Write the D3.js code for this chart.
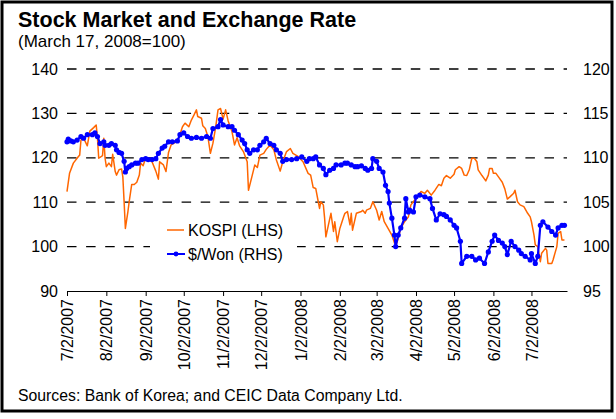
<!DOCTYPE html>
<html>
<head>
<meta charset="utf-8">
<script src="https://cdn.jsdelivr.net/npm/d3@7"></script>
<style>
    body { margin: 0; background: #fff; }
    text { font-family: "Liberation Sans", Arial, sans-serif; fill: #000; }
</style>
</head>
<body>
<script>
//Chart data (March 17, 2008 = 100)
var leftTicks = [90, 100, 110, 120, 130, 140];
var rightTicks = [95, 100, 105, 110, 115, 120];
var monthTicks = ["2007-07-02", "2007-08-02", "2007-09-02", "2007-10-02",
    "2007-11-02", "2007-12-02", "2008-01-02", "2008-02-02", "2008-03-02",
    "2008-04-02", "2008-05-02", "2008-06-02", "2008-07-02"];
var seriesNames = ["KOSPI (LHS)", "$/Won (RHS)"];

//KOSPI, left axis
var kospi = [
    ["2007-07-02", 112.4], ["2007-07-04", 116.5], ["2007-07-07", 118.8],
    ["2007-07-11", 120.3], ["2007-07-12", 120.6], ["2007-07-13", 124.0],
    ["2007-07-15", 124.5], ["2007-07-18", 122.7], ["2007-07-20", 126.0],
    ["2007-07-23", 126.8], ["2007-07-25", 127.4], ["2007-07-26", 124.4],
    ["2007-07-27", 119.9], ["2007-07-30", 120.5], ["2007-07-31", 124.4],
    ["2007-08-01", 119.9], ["2007-08-02", 118.0], ["2007-08-04", 118.8],
    ["2007-08-06", 118.0], ["2007-08-07", 120.8], ["2007-08-09", 116.9],
    ["2007-08-10", 116.1], ["2007-08-12", 117.3], ["2007-08-14", 117.5],
    ["2007-08-15", 115.7], ["2007-08-16", 110.1], ["2007-08-17", 104.1],
    ["2007-08-19", 107.9], ["2007-08-20", 110.1], ["2007-08-22", 114.0],
    ["2007-08-24", 114.0], ["2007-08-26", 114.5], ["2007-08-28", 116.1],
    ["2007-08-29", 118.8], ["2007-08-31", 118.2], ["2007-09-02", 120.0],
    ["2007-09-04", 119.7], ["2007-09-06", 119.5], ["2007-09-07", 119.1],
    ["2007-09-10", 117.0], ["2007-09-12", 115.2], ["2007-09-13", 119.1],
    ["2007-09-16", 118.4], ["2007-09-18", 116.9], ["2007-09-20", 121.2],
    ["2007-09-22", 122.9], ["2007-09-25", 123.4], ["2007-09-28", 124.4],
    ["2007-10-01", 127.0], ["2007-10-03", 127.8], ["2007-10-06", 127.0],
    ["2007-10-08", 128.5], ["2007-10-10", 129.6], ["2007-10-12", 130.8],
    ["2007-10-13", 129.3], ["2007-10-16", 128.9], ["2007-10-17", 127.2],
    ["2007-10-19", 126.6], ["2007-10-21", 124.8], ["2007-10-23", 121.0],
    ["2007-10-25", 123.3], ["2007-10-27", 126.6], ["2007-10-29", 130.8],
    ["2007-10-31", 131.1], ["2007-11-02", 128.7], ["2007-11-04", 130.8],
    ["2007-11-06", 128.3], ["2007-11-09", 125.9], ["2007-11-11", 122.9],
    ["2007-11-13", 124.5], ["2007-11-15", 122.7], ["2007-11-18", 121.4],
    ["2007-11-21", 119.1], ["2007-11-22", 112.7], ["2007-11-25", 116.1],
    ["2007-11-27", 118.4], ["2007-11-29", 117.8], ["2007-12-01", 120.6],
    ["2007-12-04", 121.0], ["2007-12-06", 121.9], ["2007-12-09", 122.9],
    ["2007-12-12", 121.8], ["2007-12-14", 119.5], ["2007-12-17", 117.0],
    ["2007-12-19", 119.1], ["2007-12-22", 121.4], ["2007-12-25", 122.1],
    ["2007-12-27", 121.0], ["2007-12-31", 120.3], ["2008-01-04", 119.1],
    ["2008-01-08", 116.5], ["2008-01-10", 116.1], ["2008-01-12", 113.3],
    ["2008-01-14", 113.1], ["2008-01-16", 110.1], ["2008-01-17", 108.6],
    ["2008-01-18", 110.1], ["2008-01-20", 109.4], ["2008-01-21", 106.4],
    ["2008-01-22", 102.2], ["2008-01-24", 104.9], ["2008-01-26", 107.5],
    ["2008-01-28", 103.4], ["2008-01-29", 105.6], ["2008-01-31", 101.1],
    ["2008-02-02", 104.1], ["2008-02-05", 106.7], ["2008-02-06", 107.5],
    ["2008-02-08", 107.9], ["2008-02-10", 104.9], ["2008-02-11", 107.5],
    ["2008-02-12", 103.7], ["2008-02-15", 107.5], ["2008-02-19", 107.9],
    ["2008-02-20", 108.2], ["2008-02-22", 107.5], ["2008-02-23", 108.2],
    ["2008-02-26", 108.6], ["2008-02-28", 110.1], ["2008-03-02", 108.2],
    ["2008-03-04", 106.0], ["2008-03-06", 107.9], ["2008-03-08", 105.6],
    ["2008-03-11", 104.1], ["2008-03-14", 102.6], ["2008-03-17", 100.0],
    ["2008-03-19", 101.9], ["2008-03-21", 104.1], ["2008-03-24", 105.6],
    ["2008-03-27", 106.7], ["2008-03-29", 109.4], ["2008-04-01", 110.5],
    ["2008-04-04", 111.6], ["2008-04-06", 112.4], ["2008-04-09", 112.0],
    ["2008-04-11", 112.7], ["2008-04-14", 111.6], ["2008-04-17", 112.7],
    ["2008-04-20", 114.0], ["2008-04-22", 113.7], ["2008-04-24", 115.4],
    ["2008-04-26", 116.0], ["2008-04-29", 115.4], ["2008-05-02", 116.3],
    ["2008-05-03", 117.3], ["2008-05-06", 118.0], ["2008-05-08", 117.6],
    ["2008-05-10", 116.1], ["2008-05-12", 116.0], ["2008-05-14", 117.3],
    ["2008-05-16", 119.9], ["2008-05-18", 119.9], ["2008-05-20", 119.1],
    ["2008-05-21", 117.3], ["2008-05-24", 116.0], ["2008-05-27", 114.8],
    ["2008-05-29", 116.1], ["2008-05-30", 117.6], ["2008-06-01", 117.6],
    ["2008-06-02", 116.5], ["2008-06-04", 116.5], ["2008-06-06", 115.7],
    ["2008-06-09", 114.5], ["2008-06-11", 113.0], ["2008-06-13", 110.7],
    ["2008-06-15", 111.2], ["2008-06-18", 112.0], ["2008-06-19", 112.7],
    ["2008-06-21", 110.1], ["2008-06-23", 109.4], ["2008-06-26", 109.0],
    ["2008-06-29", 107.5], ["2008-07-01", 106.7], ["2008-07-02", 105.6],
    ["2008-07-04", 102.6], ["2008-07-05", 100.4], ["2008-07-07", 100.0],
    ["2008-07-09", 96.6], ["2008-07-10", 98.5], ["2008-07-13", 99.6],
    ["2008-07-14", 99.2], ["2008-07-15", 96.2], ["2008-07-18", 96.2],
    ["2008-07-19", 97.0], ["2008-07-22", 100.0], ["2008-07-23", 103.0],
    ["2008-07-25", 103.4], ["2008-07-26", 101.5], ["2008-07-28", 101.5]
];

//Dollar / won exchange rate, right axis
var won = [
    ["2007-07-02", 111.8], ["2007-07-03", 112.1], ["2007-07-05", 111.9],
    ["2007-07-07", 111.8], ["2007-07-10", 112.0], ["2007-07-13", 112.4],
    ["2007-07-15", 112.2], ["2007-07-18", 112.6], ["2007-07-22", 112.6],
    ["2007-07-24", 112.8], ["2007-07-26", 112.4], ["2007-07-28", 111.6],
    ["2007-07-31", 111.8], ["2007-08-01", 111.4], ["2007-08-04", 111.4],
    ["2007-08-06", 111.6], ["2007-08-09", 111.4], ["2007-08-10", 110.9],
    ["2007-08-12", 110.6], ["2007-08-14", 110.5], ["2007-08-16", 109.6],
    ["2007-08-17", 108.4], ["2007-08-18", 108.8], ["2007-08-20", 109.0],
    ["2007-08-22", 109.2], ["2007-08-25", 109.4], ["2007-08-27", 109.4],
    ["2007-08-30", 109.8], ["2007-09-02", 109.9], ["2007-09-04", 109.8],
    ["2007-09-07", 109.8], ["2007-09-10", 109.9], ["2007-09-12", 110.5],
    ["2007-09-15", 111.1], ["2007-09-17", 111.3], ["2007-09-20", 111.8],
    ["2007-09-23", 111.8], ["2007-09-27", 111.9], ["2007-09-29", 112.6],
    ["2007-10-02", 112.8], ["2007-10-05", 112.4], ["2007-10-08", 112.2],
    ["2007-10-12", 112.3], ["2007-10-16", 112.2], ["2007-10-20", 112.4],
    ["2007-10-23", 112.2], ["2007-10-25", 113.3], ["2007-10-29", 113.5],
    ["2007-10-31", 114.3], ["2007-11-02", 113.7], ["2007-11-06", 113.5],
    ["2007-11-09", 113.5], ["2007-11-11", 113.1], ["2007-11-14", 112.6],
    ["2007-11-17", 112.0], ["2007-11-19", 111.6], ["2007-11-21", 110.9],
    ["2007-11-23", 110.5], ["2007-11-26", 110.9], ["2007-11-29", 110.9],
    ["2007-12-01", 111.4], ["2007-12-04", 111.8], ["2007-12-06", 112.2],
    ["2007-12-09", 111.6], ["2007-12-12", 111.4], ["2007-12-14", 110.9],
    ["2007-12-17", 110.5], ["2007-12-19", 109.6], ["2007-12-22", 109.8],
    ["2007-12-26", 109.8], ["2007-12-30", 109.9], ["2008-01-03", 110.1],
    ["2008-01-07", 109.6], ["2008-01-09", 109.9], ["2008-01-12", 109.9],
    ["2008-01-14", 110.1], ["2008-01-17", 109.2], ["2008-01-20", 108.8],
    ["2008-01-22", 108.1], ["2008-01-25", 108.6], ["2008-01-28", 108.8],
    ["2008-01-30", 109.2], ["2008-02-03", 109.2], ["2008-02-06", 109.4],
    ["2008-02-08", 109.4], ["2008-02-11", 109.2], ["2008-02-14", 109.0],
    ["2008-02-16", 109.0], ["2008-02-19", 109.1], ["2008-02-22", 108.8],
    ["2008-02-24", 108.6], ["2008-02-27", 108.8], ["2008-02-28", 109.9],
    ["2008-03-02", 109.6], ["2008-03-04", 108.8], ["2008-03-07", 108.4],
    ["2008-03-09", 106.9], ["2008-03-11", 106.2], ["2008-03-12", 104.9],
    ["2008-03-14", 103.2], ["2008-03-16", 101.3], ["2008-03-17", 100.0],
    ["2008-03-19", 101.3], ["2008-03-21", 102.1], ["2008-03-24", 103.2],
    ["2008-03-25", 105.4], ["2008-03-27", 103.9], ["2008-03-28", 104.1],
    ["2008-03-31", 103.9], ["2008-04-02", 105.6], ["2008-04-05", 105.8],
    ["2008-04-09", 105.6], ["2008-04-13", 105.4], ["2008-04-15", 104.3],
    ["2008-04-18", 103.0], ["2008-04-21", 103.7], ["2008-04-24", 103.6],
    ["2008-04-26", 103.4], ["2008-04-29", 103.0], ["2008-05-02", 102.4],
    ["2008-05-04", 102.1], ["2008-05-07", 100.6], ["2008-05-08", 98.1],
    ["2008-05-12", 98.9], ["2008-05-16", 98.9], ["2008-05-19", 98.5],
    ["2008-05-22", 98.7], ["2008-05-26", 98.1], ["2008-05-29", 99.4],
    ["2008-06-01", 100.6], ["2008-06-03", 101.3], ["2008-06-06", 100.7],
    ["2008-06-09", 100.4], ["2008-06-11", 100.0], ["2008-06-13", 99.1],
    ["2008-06-16", 100.6], ["2008-06-19", 100.0], ["2008-06-22", 99.6],
    ["2008-06-24", 99.2], ["2008-06-27", 98.9], ["2008-07-01", 98.5],
    ["2008-07-02", 99.2], ["2008-07-05", 98.1], ["2008-07-07", 98.9],
    ["2008-07-09", 102.4], ["2008-07-11", 102.8], ["2008-07-15", 102.2],
    ["2008-07-18", 101.7], ["2008-07-21", 101.3], ["2008-07-23", 102.1],
    ["2008-07-26", 102.4], ["2008-07-28", 102.4]
];

var orange = "#ff6600",
    blue = "#0000ff";

//Plot area inside the 616x419 picture
var margin = {top: 69, right: 49, bottom: 128, left: 67},
    width = 616 - margin.left - margin.right,
    height = 419 - margin.top - margin.bottom;

var parseDate = d3.timeParse("%Y-%m-%d"),
    formatTick = d3.timeFormat("%-m/%-d/%Y");

var svg = d3.select("body").append("svg")
    .attr("width", 616)
    .attr("height", 419);

//Outer frame
svg.append("rect")
    .attr("x", 2)
    .attr("y", 2)
    .attr("width", 610)
    .attr("height", 409)
    .attr("fill", "#fff")
    .attr("stroke", "#000")
    .attr("stroke-width", 3);

//Titles
svg.append("text")
    .attr("x", 18)
    .attr("y", 27)
    .style("font-size", "21.5px")
    .style("font-weight", "bold")
    .text("Stock Market and Exchange Rate");

svg.append("text")
    .attr("x", 18)
    .attr("y", 47)
    .style("font-size", "17px")
    .text("(March 17, 2008=100)");

svg.append("text")
    .attr("x", 18)
    .attr("y", 401)
    .style("font-size", "15.8px")
    .text("Sources: Bank of Korea; and CEIC Data Company Ltd.");

var g = svg.append("g")
    .attr("transform", "translate(" + margin.left + "," + margin.top + ")");

//Scales
var x = d3.scaleTime()
    .domain([parseDate("2007-07-02"), parseDate("2008-07-30")])
    .range([0, width]);

var yLeft = d3.scaleLinear().domain([90, 140]).range([height, 0]);
var yRight = d3.scaleLinear().domain([95, 120]).range([height, 0]);

//Dashed gridlines (every major tick except the bottom axis)
g.append("g")
    .selectAll("line")
    .data(leftTicks.slice(1))
    .enter().append("line")
    .attr("x1", 0)
    .attr("x2", width)
    .attr("y1", function(d) { return yLeft(d); })
    .attr("y2", function(d) { return yLeft(d); })
    .attr("stroke", "#000")
    .attr("stroke-width", 1.3)
    .attr("stroke-dasharray", "9.5,9.6");

//Left and right value labels
var leftAxis = g.append("g")
    .call(d3.axisLeft(yLeft).tickValues(leftTicks).tickSize(0).tickPadding(9));
leftAxis.select(".domain").remove();

var rightAxis = g.append("g")
    .attr("transform", "translate(" + width + ",0)")
    .call(d3.axisRight(yRight).tickValues(rightTicks).tickSize(0)
        .tickPadding(16));
rightAxis.select(".domain").remove();

//Bottom date axis
var xAxis = g.append("g")
    .attr("transform", "translate(0," + height + ")")
    .call(d3.axisBottom(x)
        .tickValues(monthTicks.map(parseDate))
        .tickSize(5)
        .tickSizeOuter(0)
        .tickFormat(formatTick));

xAxis.select(".domain").attr("stroke-width", 1);
xAxis.selectAll(".tick text")
    .attr("transform", "rotate(-90)")
    .attr("x", -8)
    .attr("y", 0)
    .attr("dy", "0.35em")
    .style("text-anchor", "end");

//Same font for all axis labels
g.selectAll(".tick text")
    .style("font-family", "'Liberation Sans', Arial, sans-serif")
    .style("font-size", "16px");

//Legend box sits over the gridline
var legend = g.append("g")
    .attr("transform", "translate(100,161)");

legend.append("rect")
    .attr("x", -17)
    .attr("y", -12)
    .attr("width", 147)
    .attr("height", 48)
    .attr("fill", "#fff");

legend.append("line")
    .attr("x1", 0).attr("x2", 17)
    .attr("y1", 0).attr("y2", 0)
    .attr("stroke", orange)
    .attr("stroke-width", 1.5);

legend.append("line")
    .attr("x1", 0).attr("x2", 18)
    .attr("y1", 24).attr("y2", 24)
    .attr("stroke", blue)
    .attr("stroke-width", 2);

legend.append("circle")
    .attr("cx", 9)
    .attr("cy", 24)
    .attr("r", 2.4)
    .attr("fill", blue);

legend.selectAll("text")
    .data(seriesNames)
    .enter().append("text")
    .attr("x", 21)
    .attr("y", function(d, i) { return i * 24; })
    .attr("dy", "0.35em")
    .style("font-size", "16px")
    .text(function(d) { return d; });

//KOSPI line
var kospiLine = d3.line()
    .x(function(d) { return x(parseDate(d[0])); })
    .y(function(d) { return yLeft(d[1]); });

g.append("path")
    .datum(kospi)
    .attr("fill", "none")
    .attr("stroke", orange)
    .attr("stroke-width", 1.5)
    .attr("stroke-linejoin", "round")
    .attr("d", kospiLine);

//Won line with markers
var wonLine = d3.line()
    .x(function(d) { return x(parseDate(d[0])); })
    .y(function(d) { return yRight(d[1]); });

g.append("path")
    .datum(won)
    .attr("fill", "none")
    .attr("stroke", blue)
    .attr("stroke-width", 2.2)
    .attr("stroke-linejoin", "round")
    .attr("d", wonLine);

g.append("g")
    .selectAll("circle")
    .data(won)
    .enter().append("circle")
    .attr("cx", function(d) { return x(parseDate(d[0])); })
    .attr("cy", function(d) { return yRight(d[1]); })
    .attr("r", 2.6)
    .attr("fill", blue);
</script>
</body>
</html>
